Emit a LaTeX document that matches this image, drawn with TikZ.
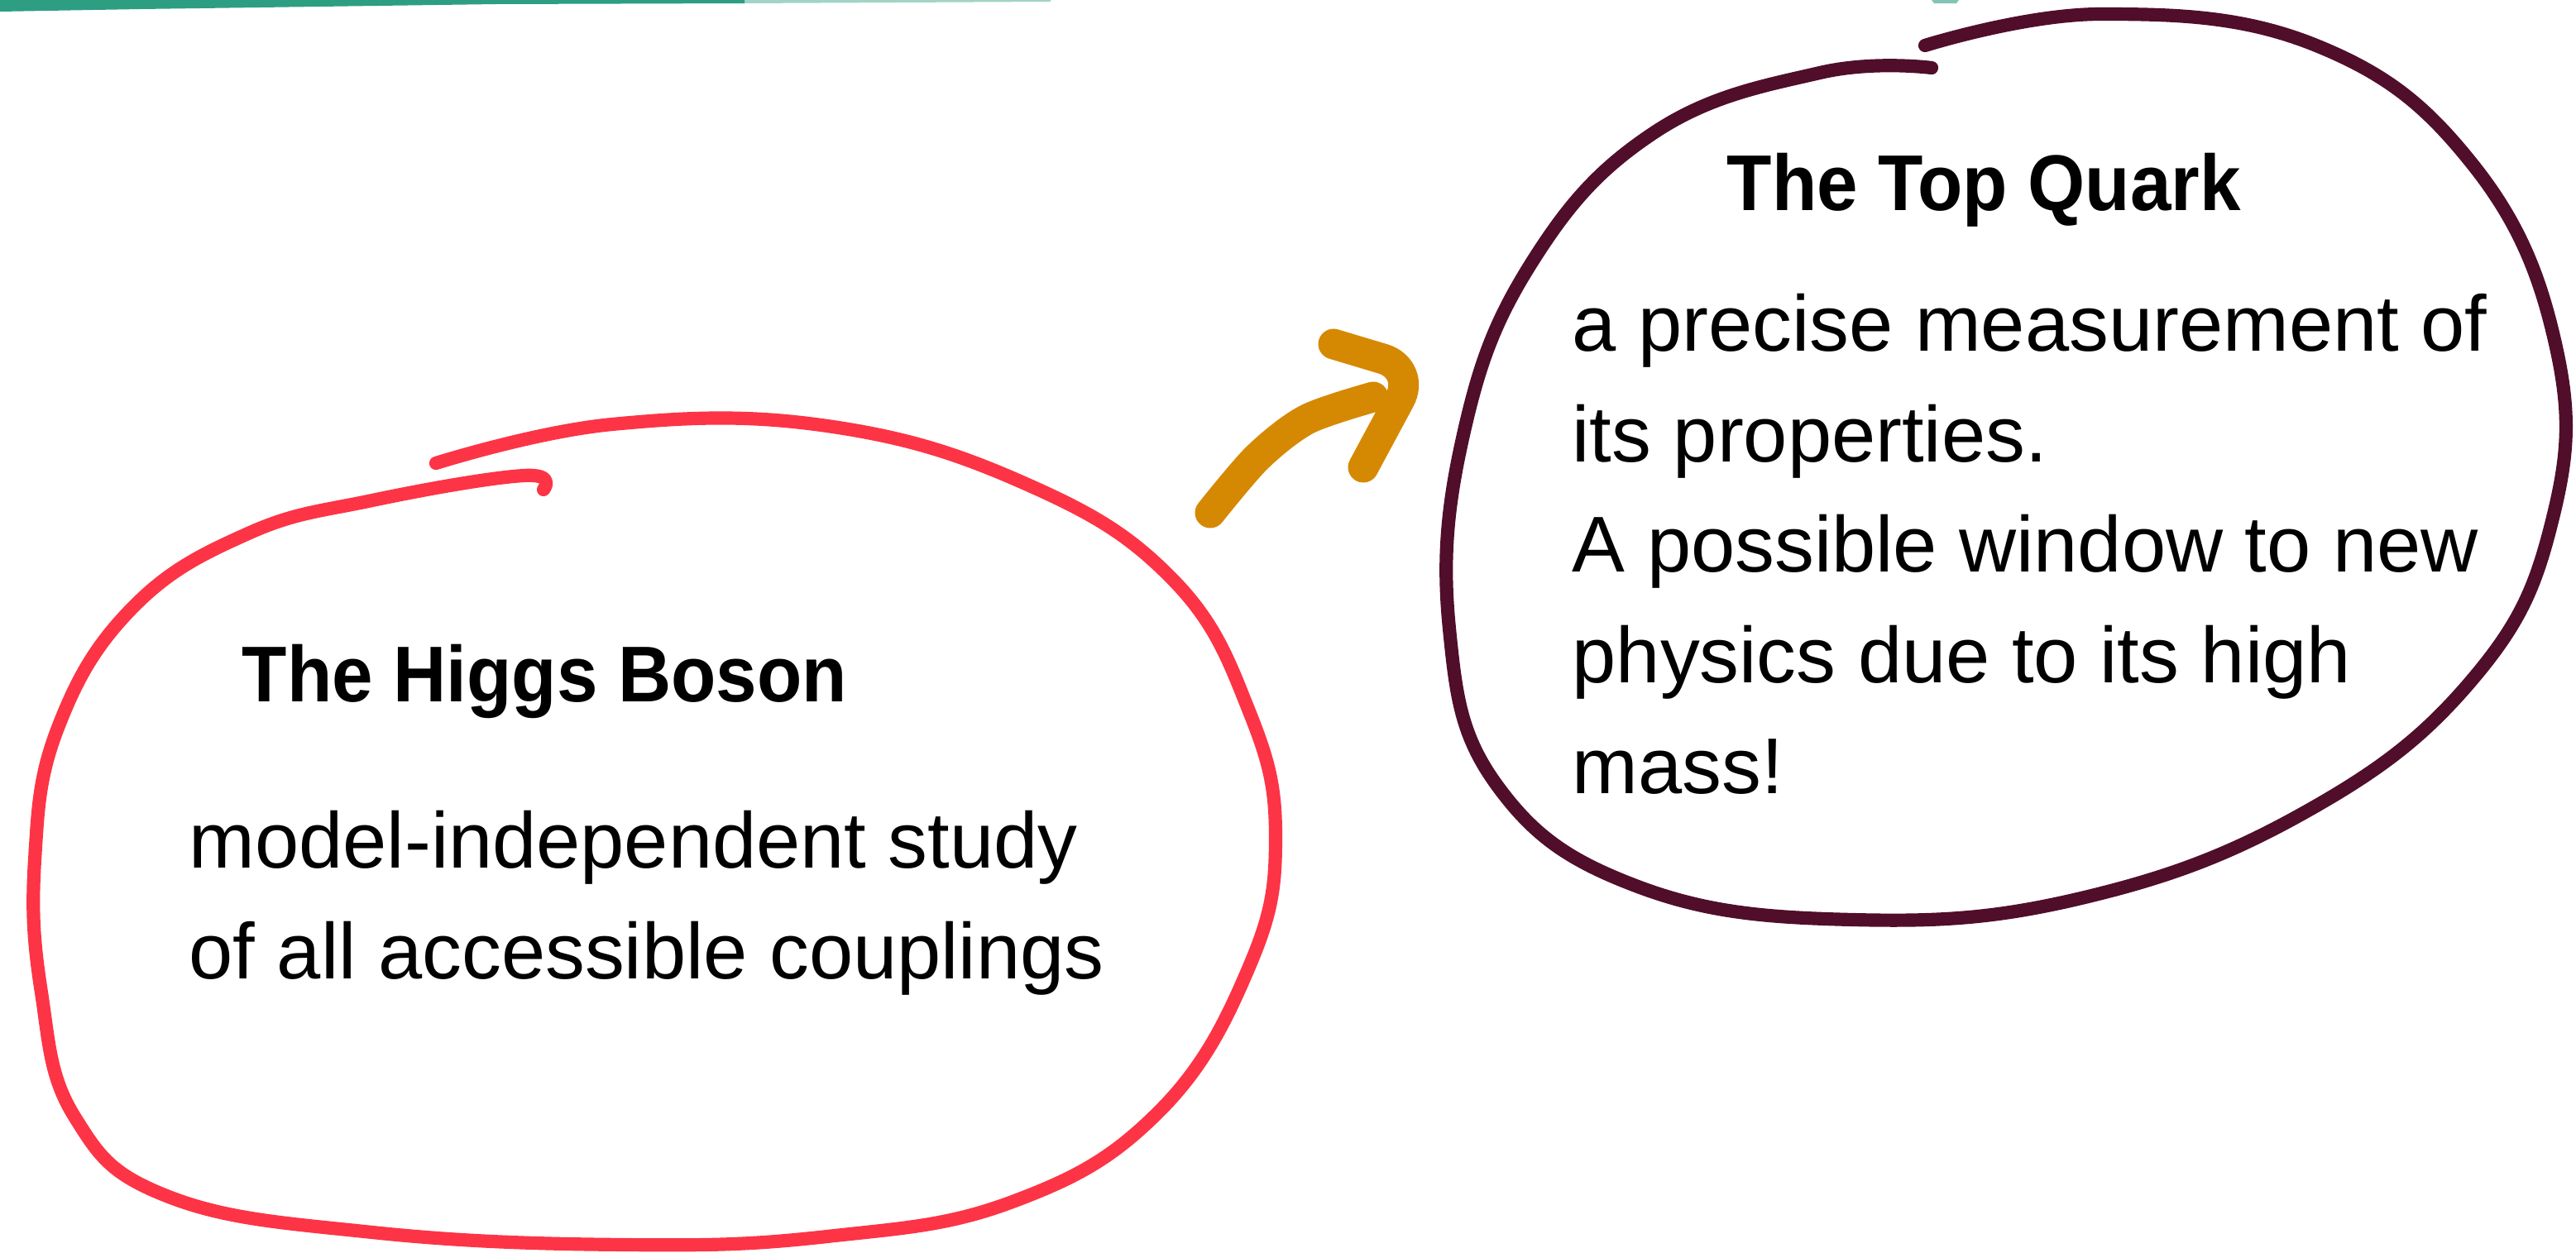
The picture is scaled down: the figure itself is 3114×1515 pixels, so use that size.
\documentclass[tikz,border=0pt]{standalone}
\usepackage{fontspec}
\setmainfont{Liberation Sans}
\newfontfamily\headfont{Liberation Sans}[FakeStretch=0.93]
\definecolor{higgsred}{RGB}{253,52,70}
\definecolor{topwine}{RGB}{80,14,42}
\definecolor{arrowgold}{RGB}{213,137,2}
\definecolor{edgegreen}{RGB}{46,158,130}

\begin{document}
\begin{tikzpicture}[x=0.01cm,y=-0.01cm,
  crayon/.style={line width=4.6pt,line cap=round,line join=round},
  head/.style={inner sep=0pt,anchor=base west,font=\fontsize{27.2}{38}\headfont\bfseries},
  body/.style={inner sep=0pt,anchor=base west,align=left,font=\fontsize{27.2}{38}\selectfont}]
\useasboundingbox (0,0) rectangle (3114,1515);
% green edge at the top
\fill[edgegreen] (0,0)--(900,0)--(900,4)--(600,5)--(170,11)--(0,14)--cycle;
\fill[edgegreen,opacity=.45] (900,0)--(1270,0)--(1270,2)--(900,4)--cycle;
\fill[edgegreen,opacity=.6] (2335,0)--(2368,0)--(2365,4)--(2338,4)--cycle;
% Higgs loop
\draw[crayon,higgsred] plot[smooth,tension=.7] coordinates {
  (527,560) (740,513) (1000,515) (1240,585) (1417,700) (1510,860)
  (1542,1012) (1510,1169) (1400,1345) (1224,1453) (1000,1495) (755,1505)
  (450,1490) (204,1447) (90,1350) (50,1200) (42,1040) (70,880) (160,735)
  (300,645) (450,605) (633,575) (657,592)};
% top quark loop
\draw[crayon,topwine] plot[smooth,tension=.7] coordinates {
  (2327,55) (2540,17) (2800,55) (2990,200) (3090,420) (3085,630)
  (2990,820) (2790,980) (2520,1085) (2240,1112) (1980,1072) (1810,950)
  (1752,760) (1768,530) (1850,320) (2000,160) (2200,88) (2335,82)};
% arrow
\draw[arrowgold,line width=10.5pt,line cap=round] plot[smooth] coordinates {
  (1463,620) (1520,553) (1580,507) (1660,480)};
\draw[arrowgold,line width=10.5pt,line cap=round,rounded corners=12]
  (1612,416) -- (1712,446) -- (1648,565);
% texts
\node[head] (higgs) at (292,848) {The Higgs Boson};
\node[body] (higgstext) at (228,1183) {model-independent study\\of all accessible couplings};
\node[head] (top) at (2087,254) {The Top Quark};
\node[body] (toptext) at (1900,959) {a precise measurement of\\its properties.\\A possible window to new\\physics due to its high\\mass!};
\end{tikzpicture}
\end{document}
